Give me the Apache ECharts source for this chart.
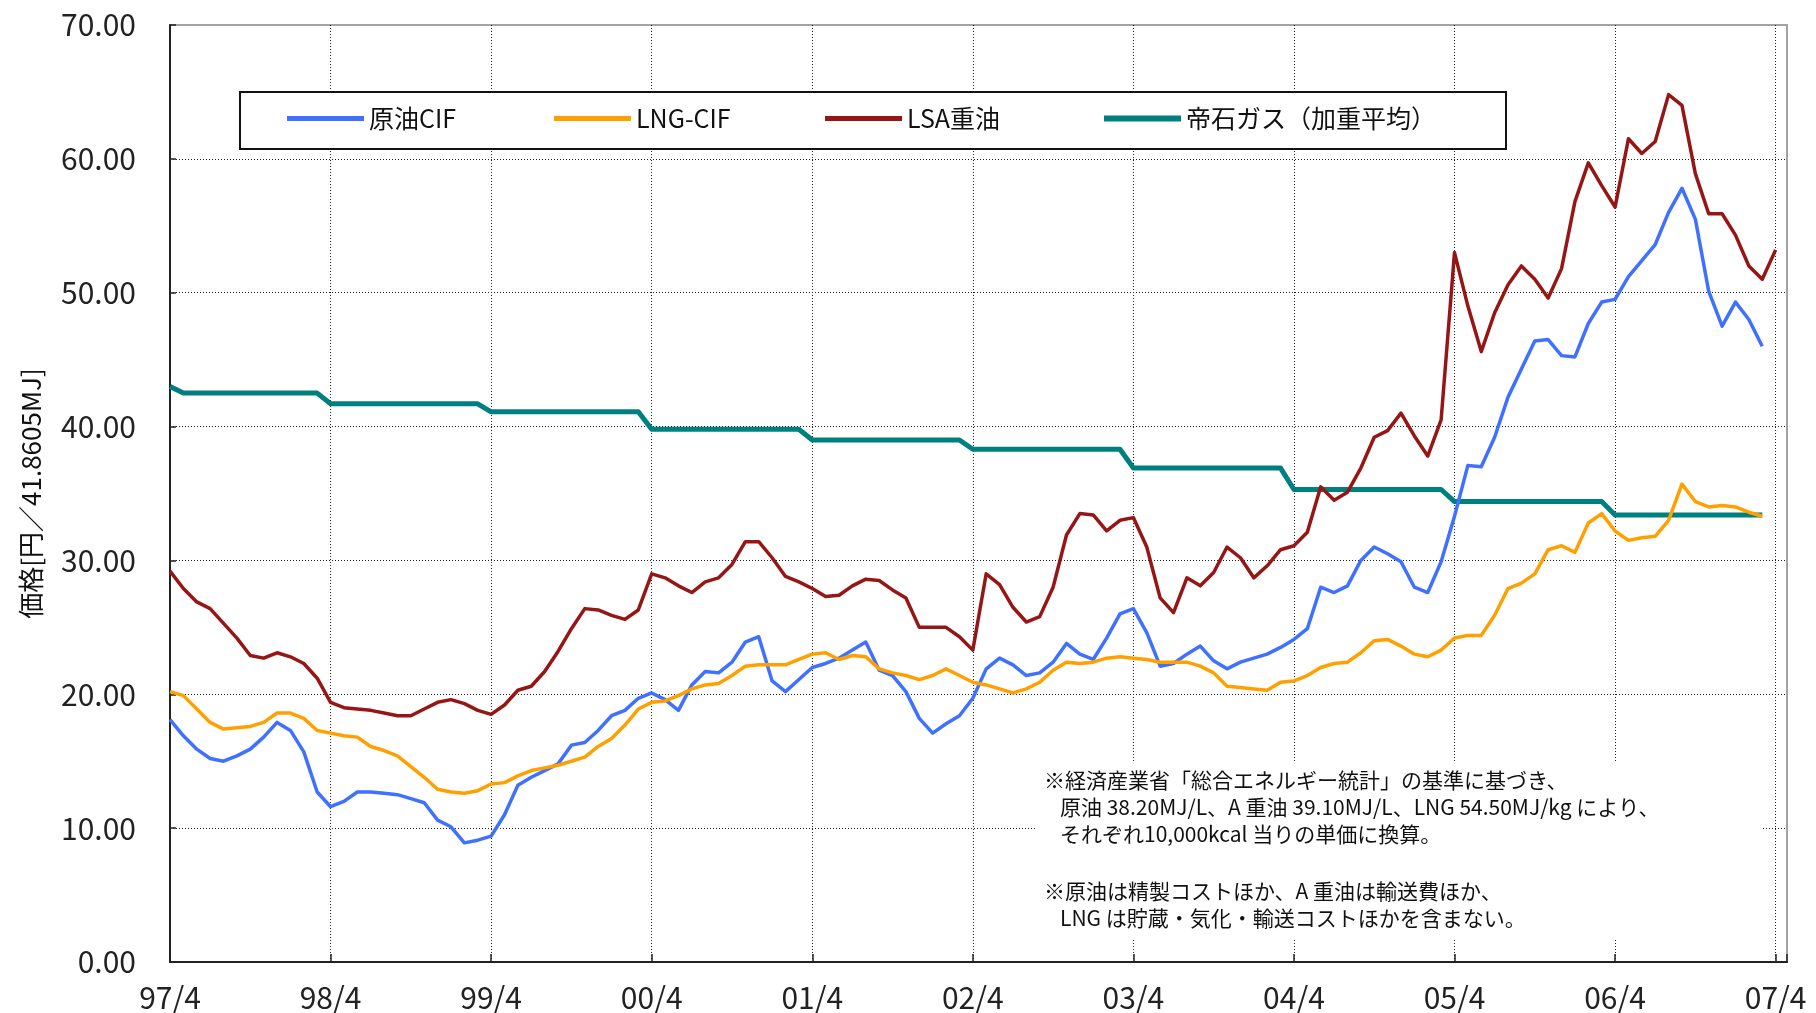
<!DOCTYPE html>
<html>
<head>
<meta charset="utf-8">
<script src="https://cdn.jsdelivr.net/npm/echarts@6/dist/echarts.min.js"></script>
<style>
  html, body { margin: 0; padding: 0; background: #fff; }
  #chart { width: 1816px; height: 1013px; }
</style>
</head>
<body>
<div id="chart"></div>
<script>
// Fuel price comparison, monthly from 97/4 (index 0) onward, in yen per 41.8605 MJ.
const tickLabels = ['97/4', '98/4', '99/4', '00/4', '01/4', '02/4', '03/4', '04/4', '05/4', '06/4', '07/4'];

const crudeCIF = [
  18.1, 16.9, 15.9, 15.2, 15.0, 15.4, 15.9, 16.8, 17.9, 17.3,
  15.7, 12.7, 11.6, 12.0, 12.7, 12.7, 12.6, 12.5, 12.2, 11.9,
  10.6, 10.1, 8.9, 9.1, 9.4, 11.0, 13.2, 13.8, 14.3, 14.8,
  16.2, 16.4, 17.3, 18.4, 18.8, 19.7, 20.1, 19.6, 18.8, 20.7,
  21.7, 21.6, 22.4, 23.9, 24.3, 21.0, 20.2, 21.1, 22.0, 22.3,
  22.7, 23.3, 23.9, 21.8, 21.4, 20.2, 18.2, 17.1, 17.8, 18.4,
  19.7, 21.9, 22.7, 22.2, 21.4, 21.6, 22.4, 23.8, 23.0, 22.6,
  24.2, 26.0, 26.4, 24.6, 22.1, 22.3, 23.0, 23.6, 22.5, 21.9,
  22.4, 22.7, 23.0, 23.5, 24.1, 24.9, 28.0, 27.6, 28.1, 30.0,
  31.0, 30.5, 29.9, 28.0, 27.6, 29.9, 33.3, 37.1, 37.0, 39.2,
  42.2, 44.3, 46.4, 46.5, 45.3, 45.2, 47.7, 49.3, 49.5, 51.2,
  52.4, 53.6, 56.0, 57.8, 55.5, 50.1, 47.5, 49.3, 48.0, 46.0
];

const lngCIF = [
  20.2, 19.9, 18.9, 17.9, 17.4, 17.5, 17.6, 17.9, 18.6, 18.6,
  18.2, 17.3, 17.1, 16.9, 16.8, 16.1, 15.8, 15.4, 14.6, 13.8,
  12.9, 12.7, 12.6, 12.8, 13.3, 13.4, 13.9, 14.3, 14.5, 14.7,
  15.0, 15.3, 16.1, 16.7, 17.7, 18.9, 19.4, 19.5, 19.9, 20.4,
  20.7, 20.8, 21.4, 22.1, 22.2, 22.2, 22.2, 22.6, 23.0, 23.1,
  22.6, 22.9, 22.8, 21.9, 21.6, 21.4, 21.1, 21.4, 21.9, 21.4,
  20.9, 20.7, 20.4, 20.1, 20.4, 20.9, 21.8, 22.4, 22.3, 22.4,
  22.7, 22.8, 22.7, 22.6, 22.4, 22.4, 22.4, 22.1, 21.6, 20.6,
  20.5, 20.4, 20.3, 20.9, 21.0, 21.4, 22.0, 22.3, 22.4, 23.1,
  24.0, 24.1, 23.6, 23.0, 22.8, 23.3, 24.2, 24.4, 24.4, 25.9,
  27.9, 28.3, 29.0, 30.8, 31.1, 30.6, 32.8, 33.5, 32.2, 31.5,
  31.7, 31.8, 33.0, 35.7, 34.4, 34.0, 34.1, 34.0, 33.6, 33.3
];

const lsaHeavyOil = [
  29.2, 27.9, 26.9, 26.4, 25.3, 24.2, 22.9, 22.7, 23.1, 22.8,
  22.3, 21.2, 19.4, 19.0, 18.9, 18.8, 18.6, 18.4, 18.4, 18.9,
  19.4, 19.6, 19.3, 18.8, 18.5, 19.2, 20.3, 20.6, 21.7, 23.2,
  24.9, 26.4, 26.3, 25.9, 25.6, 26.3, 29.0, 28.7, 28.1, 27.6,
  28.4, 28.7, 29.7, 31.4, 31.4, 30.2, 28.8, 28.4, 27.9, 27.3,
  27.4, 28.1, 28.6, 28.5, 27.8, 27.2, 25.0, 25.0, 25.0, 24.3,
  23.3, 29.0, 28.2, 26.5, 25.4, 25.8, 28.0, 31.9, 33.5, 33.4,
  32.2, 33.0, 33.2, 31.0, 27.2, 26.1, 28.7, 28.1, 29.1, 31.0,
  30.2, 28.7, 29.6, 30.8, 31.1, 32.1, 35.5, 34.5, 35.1, 36.9,
  39.2, 39.7, 41.0, 39.3, 37.8, 40.5, 53.0, 49.0, 45.6, 48.5,
  50.6, 52.0, 51.0, 49.6, 51.8, 56.8, 59.7, 58.0, 56.4, 61.5,
  60.4, 61.3, 64.8, 64.0, 58.9, 55.9, 55.9, 54.3, 52.0, 51.0,
  53.2
];

const teisekiGas = [
  43.0, 42.5, 42.5, 42.5, 42.5, 42.5, 42.5, 42.5, 42.5, 42.5, 42.5, 42.5,
  41.7, 41.7, 41.7, 41.7, 41.7, 41.7, 41.7, 41.7, 41.7, 41.7, 41.7, 41.7,
  41.1, 41.1, 41.1, 41.1, 41.1, 41.1, 41.1, 41.1, 41.1, 41.1, 41.1, 41.1,
  39.8, 39.8, 39.8, 39.8, 39.8, 39.8, 39.8, 39.8, 39.8, 39.8, 39.8, 39.8,
  39.0, 39.0, 39.0, 39.0, 39.0, 39.0, 39.0, 39.0, 39.0, 39.0, 39.0, 39.0,
  38.3, 38.3, 38.3, 38.3, 38.3, 38.3, 38.3, 38.3, 38.3, 38.3, 38.3, 38.3,
  36.9, 36.9, 36.9, 36.9, 36.9, 36.9, 36.9, 36.9, 36.9, 36.9, 36.9, 36.9,
  35.3, 35.3, 35.3, 35.3, 35.3, 35.3, 35.3, 35.3, 35.3, 35.3, 35.3, 35.3,
  34.4, 34.4, 34.4, 34.4, 34.4, 34.4, 34.4, 34.4, 34.4, 34.4, 34.4, 34.4,
  33.4, 33.4, 33.4, 33.4, 33.4, 33.4, 33.4, 33.4, 33.4, 33.4, 33.4, 33.4
];

const seriesNames = ['原油CIF', 'LNG-CIF', 'LSA重油', '帝石ガス（加重平均）'];
const yAxisTitle = '価格[円／41.8605MJ]';
const noteLines = [
  '※経済産業省「総合エネルギー統計」の基準に基づき、',
  '原油 38.20MJ/L、A 重油 39.10MJ/L、LNG 54.50MJ/kg により、',
  'それぞれ10,000kcal 当りの単価に換算。',
  '※原油は精製コストほか、A 重油は輸送費ほか、',
  'LNG は貯蔵・気化・輸送コストほかを含まない。'
];

const FONT = "'Noto Sans CJK JP', 'Noto Sans', sans-serif";
const COLORS = {
  crude: '#3f70ff',
  lng: '#ffa000',
  lsa: '#961616',
  gas: '#007f7f'
};

const toPoints = arr => arr.map((v, i) => [i, v]);

const chart = echarts.init(document.getElementById('chart'), null, { renderer: 'canvas' });

const legendBase = {
  orient: 'horizontal',
  padding: 0,
  top: 106,
  icon: 'rect',
  itemWidth: 77,
  itemHeight: 5,
  itemGap: 0,
  selectedMode: false,
  textStyle: { fontSize: 25, color: '#111', fontFamily: FONT }
};

const noteText = (text, x, y) => ({
  type: 'text',
  x: x,
  y: y,
  z: 5,
  style: {
    text: text,
    fontSize: 21,
    fontFamily: FONT,
    fill: '#111',
    verticalAlign: 'middle'
  }
});

chart.setOption({
  animation: false,
  backgroundColor: '#fff',
  grid: {
    left: 170,
    right: 29,
    top: 25,
    bottom: 50,
    show: true,
    borderColor: '#a3a3a3',
    borderWidth: 2,
    backgroundColor: 'transparent'
  },
  xAxis: {
    type: 'value',
    min: 0,
    max: 120.85,
    interval: 12,
    axisLine: { show: true, onZero: false, lineStyle: { color: '#222', width: 2 } },
    axisTick: { show: true, inside: true, length: 8, lineStyle: { color: '#222', width: 1.5 } },
    axisLabel: {
      margin: 21,
      fontSize: 30,
      color: '#222',
      fontFamily: FONT,
      formatter: v => (Number.isInteger(v / 12) ? tickLabels[v / 12] : '')
    },
    splitLine: {
      show: true,
      showMinLine: false,
      showMaxLine: false,
      lineStyle: { color: '#222', width: 1, type: [1, 2] }
    }
  },
  yAxis: {
    type: 'value',
    min: 0,
    max: 70,
    interval: 10,
    name: yAxisTitle,
    nameLocation: 'middle',
    nameRotate: 90,
    nameGap: 126,
    nameTextStyle: { fontSize: 26, color: '#111', fontFamily: FONT },
    axisLine: { show: true, lineStyle: { color: '#222', width: 2 } },
    axisTick: { show: true, inside: true, length: 6, lineStyle: { color: '#222', width: 1.5 } },
    axisLabel: {
      margin: 34,
      fontSize: 30,
      color: '#222',
      fontFamily: FONT,
      formatter: v => v.toFixed(2)
    },
    splitLine: {
      show: true,
      showMinLine: false,
      showMaxLine: false,
      lineStyle: { color: '#222', width: 1, type: [1, 2] }
    }
  },
  legend: [
    Object.assign({}, legendBase, { left: 287, data: [seriesNames[0]] }),
    Object.assign({}, legendBase, { left: 554, data: [seriesNames[1]] }),
    Object.assign({}, legendBase, { left: 825, data: [seriesNames[2]] }),
    Object.assign({}, legendBase, { left: 1104, itemHeight: 6, data: [seriesNames[3]] })
  ],
  graphic: [
    // legend frame
    {
      type: 'rect',
      z: 3,
      shape: { x: 240, y: 92, width: 1266, height: 57 },
      style: { fill: '#fff', stroke: '#111', lineWidth: 2 }
    },
    // note panel
    {
      type: 'rect',
      z: 3,
      shape: { x: 1036, y: 763, width: 726, height: 177 },
      style: { fill: '#fff' }
    },
    noteText(noteLines[0], 1044, 780),
    noteText(noteLines[1], 1060, 807),
    noteText(noteLines[2], 1060, 834),
    noteText(noteLines[3], 1044, 891),
    noteText(noteLines[4], 1060, 918)
  ],
  series: [
    {
      name: seriesNames[3],
      type: 'line',
      symbol: 'none',
      z: 2,
      color: COLORS.gas,
      lineStyle: { width: 5, color: COLORS.gas, join: 'round' },
      data: toPoints(teisekiGas)
    },
    {
      name: seriesNames[0],
      type: 'line',
      symbol: 'none',
      z: 3,
      color: COLORS.crude,
      lineStyle: { width: 3.5, color: COLORS.crude, join: 'round' },
      data: toPoints(crudeCIF)
    },
    {
      name: seriesNames[1],
      type: 'line',
      symbol: 'none',
      z: 3,
      color: COLORS.lng,
      lineStyle: { width: 3.5, color: COLORS.lng, join: 'round' },
      data: toPoints(lngCIF)
    },
    {
      name: seriesNames[2],
      type: 'line',
      symbol: 'none',
      z: 3,
      color: COLORS.lsa,
      lineStyle: { width: 3.5, color: COLORS.lsa, join: 'round' },
      data: toPoints(lsaHeavyOil)
    }
  ]
});
</script>
</body>
</html>
